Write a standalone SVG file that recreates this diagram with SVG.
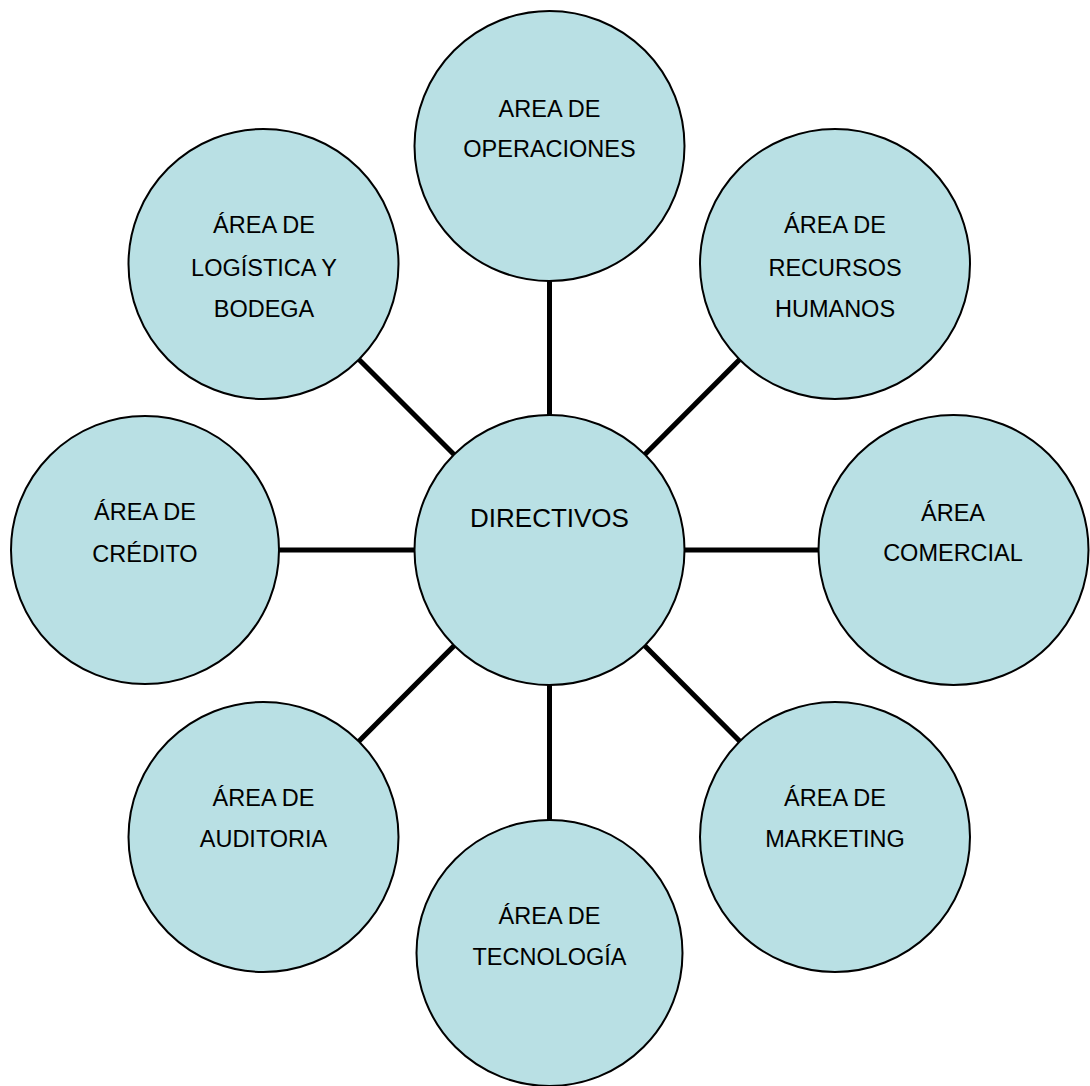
<svg xmlns="http://www.w3.org/2000/svg" width="1090" height="1086" viewBox="0 0 1090 1086">
  <style>
    .node { fill: #b9e0e4; stroke: #000; stroke-width: 2; }
    .lbl { font-family: "Liberation Sans", Arial, sans-serif; font-size: 23.5px; fill: #000; text-anchor: middle; }
    .big { font-size: 26px; }
    .link { stroke: #000; stroke-width: 5; fill: none; }
  </style>
  <rect width="1090" height="1086" fill="#fff"/>

  <!-- spokes from the central node -->
  <g id="connectors">
    <line class="link" x1="549.5" y1="550" x2="549.5" y2="146"/>
    <line class="link" x1="549.5" y1="550" x2="549.5" y2="953"/>
    <line class="link" x1="549.5" y1="550" x2="145" y2="550"/>
    <line class="link" x1="549.5" y1="550" x2="953.5" y2="550"/>
    <line class="link" x1="549.5" y1="550" x2="263.5" y2="264"/>
    <line class="link" x1="549.5" y1="550" x2="835" y2="264"/>
    <line class="link" x1="549.5" y1="550" x2="263.5" y2="837"/>
    <line class="link" x1="549.5" y1="550" x2="835" y2="837"/>
  </g>

  <g id="directivos">
    <circle class="node" cx="549.5" cy="550" r="135"/>
    <text class="lbl big" x="549.5" y="527">DIRECTIVOS</text>
  </g>

  <g id="operaciones">
    <circle class="node" cx="549.5" cy="146" r="135"/>
    <text class="lbl" x="549.5" y="117">AREA DE</text>
    <text class="lbl" x="549.5" y="157">OPERACIONES</text>
  </g>

  <g id="recursos-humanos">
    <circle class="node" cx="835" cy="264" r="135"/>
    <text class="lbl" x="835" y="233">ÁREA DE</text>
    <text class="lbl" x="835" y="276">RECURSOS</text>
    <text class="lbl" x="835" y="317">HUMANOS</text>
  </g>

  <g id="comercial">
    <circle class="node" cx="953.5" cy="550" r="135"/>
    <text class="lbl" x="953" y="521">ÁREA</text>
    <text class="lbl" x="953" y="561">COMERCIAL</text>
  </g>

  <g id="marketing">
    <circle class="node" cx="835" cy="837" r="135"/>
    <text class="lbl" x="835" y="806">ÁREA DE</text>
    <text class="lbl" x="835" y="847">MARKETING</text>
  </g>

  <g id="tecnologia">
    <circle class="node" cx="549.5" cy="953" r="133"/>
    <text class="lbl" x="549.5" y="924">ÁREA DE</text>
    <text class="lbl" x="549.5" y="965">TECNOLOGÍA</text>
  </g>

  <g id="auditoria">
    <circle class="node" cx="263.5" cy="837" r="135"/>
    <text class="lbl" x="263.5" y="806">ÁREA DE</text>
    <text class="lbl" x="263.5" y="847">AUDITORIA</text>
  </g>

  <g id="credito">
    <circle class="node" cx="145" cy="550" r="134"/>
    <text class="lbl" x="145" y="520">ÁREA DE</text>
    <text class="lbl" x="145" y="562">CRÉDITO</text>
  </g>

  <g id="logistica">
    <circle class="node" cx="263.5" cy="264" r="135"/>
    <text class="lbl" x="264" y="233">ÁREA DE</text>
    <text class="lbl" x="264" y="276">LOGÍSTICA Y</text>
    <text class="lbl" x="264" y="317">BODEGA</text>
  </g>
</svg>
